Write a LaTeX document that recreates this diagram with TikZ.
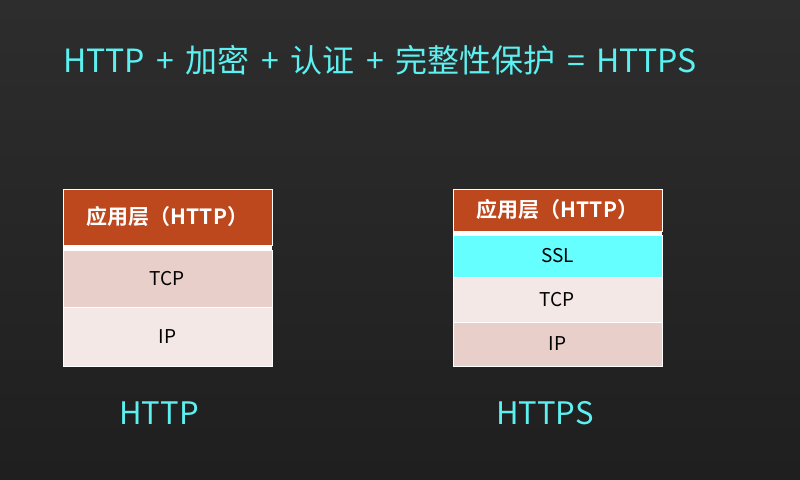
\documentclass[tikz,border=0pt]{standalone}
\usepackage{fontspec}
\setmainfont{Noto Sans CJK SC}[BoldFont={Noto Sans CJK SC Bold}]
\definecolor{bgtop}{HTML}{2D2D2D}
\definecolor{bgbot}{HTML}{1F1F1F}
\definecolor{cyantext}{HTML}{5CF0F0}
\definecolor{appfill}{HTML}{BD481D}
\definecolor{rosedark}{HTML}{E8CFCA}
\definecolor{roselight}{HTML}{F4E8E6}
\definecolor{sslfill}{HTML}{66FFFF}
\begin{document}
\begin{tikzpicture}[x=1pt,y=-1pt,
  layer/.style={rectangle, draw=white, line width=0.7pt, inner sep=0pt, minimum width=209pt, font=\fontsize{19}{22}\selectfont, text=black},
  applayer/.style={layer, fill=appfill, text=white, font=\fontsize{21}{24}\selectfont\bfseries},
  caption/.style={text=cyantext, inner sep=0pt, anchor=base, font=\fontsize{31}{38}\selectfont}]
\shade[top color=bgtop, bottom color=bgbot] (0,0) rectangle (800,479);
\useasboundingbox (0,0) rectangle (800,479);
\node[caption, anchor=base west, font=\fontsize{32}{38}\selectfont] (title) at (63,72) {\spaceskip=0.36em\relax HTTP + 加密 + 认证 + 完整性保护 = HTTPS};
% left stack
\node[applayer, minimum height=56pt] (lapp) at (167.5,217) {应用层（HTTP）};
\node[layer, fill=rosedark, minimum height=57pt] (ltcp) at (167.5,278.5) {TCP};
\node[layer, fill=roselight, minimum height=59pt] (lip) at (167.5,336.5) {IP};
\fill[white] (lapp.south west) rectangle (ltcp.north east);
% right stack
\node[applayer, minimum height=42pt] (rapp) at (557.5,210) {应用层（HTTP）};
\node[layer, fill=sslfill, minimum height=42pt] (rssl) at (557.5,256) {SSL};
\node[layer, fill=roselight, minimum height=45pt] (rtcp) at (557.5,299.5) {TCP};
\node[layer, fill=rosedark, minimum height=44pt] (rip) at (557.5,344) {IP};
\fill[white] (rapp.south west) rectangle (rssl.north east);
\node[caption] (lcap) at (159,424) {HTTP};
\node[caption] (rcap) at (545,424) {HTTPS};
\end{tikzpicture}
\end{document}
